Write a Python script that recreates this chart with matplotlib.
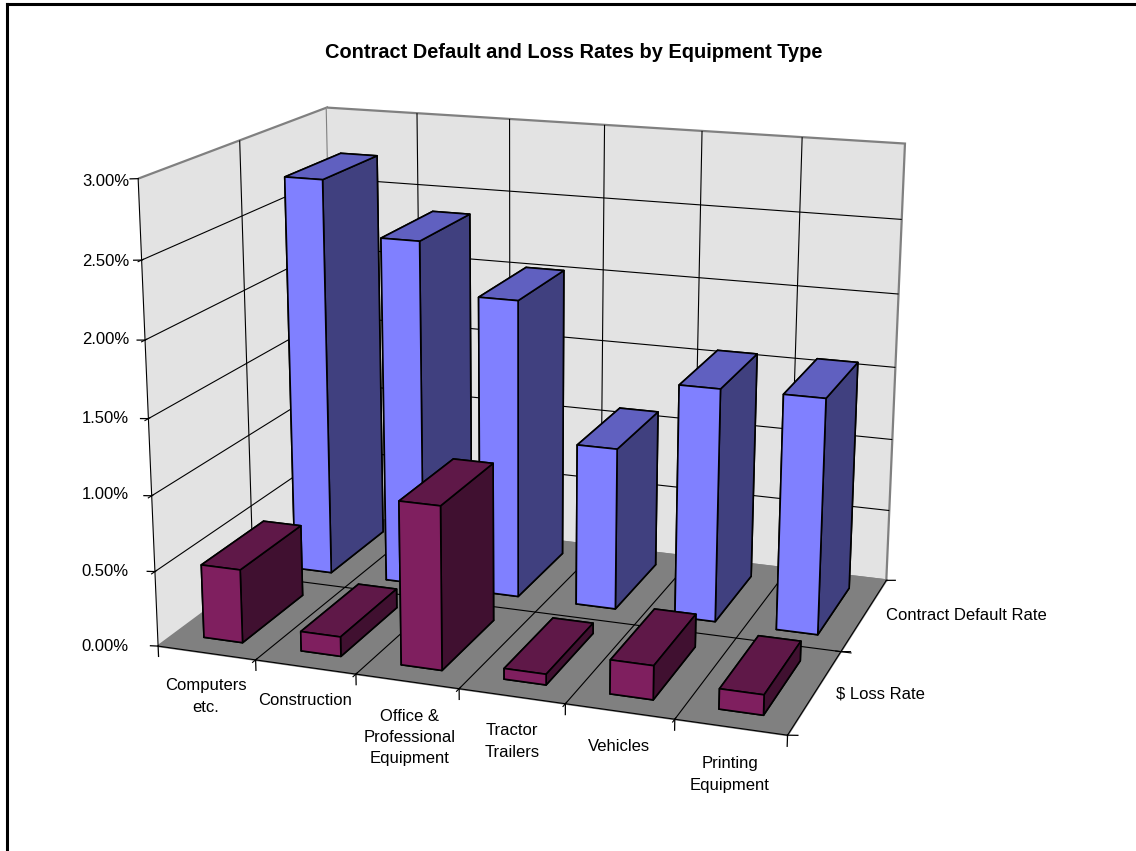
import numpy as np
import matplotlib
matplotlib.use('Agg')
import matplotlib.pyplot as plt
from matplotlib.lines import Line2D

plt.rcParams['font.family'] = ['Liberation Sans', 'DejaVu Sans']
plt.rcParams['grid.color'] = 'black'
plt.rcParams['grid.linewidth'] = 0.8

categories = ['Computers\netc.', 'Construction', 'Office &\nProfessional\nEquipment',
              'Tractor\nTrailers', 'Vehicles', 'Printing\nEquipment']
series_names = ['$ Loss Rate', 'Contract Default Rate']
loss_rate = [0.49, 0.13, 1.07, 0.07, 0.22, 0.13]
default_rate = [2.73, 2.37, 2.03, 1.10, 1.57, 1.575]
z_ticks = [0.0, 0.5, 1.0, 1.5, 2.0, 2.5, 3.0]

BAR_W = 0.4
BAR_D = 0.66
blue = ['#6060C0', '#6060C0', '#8080FF', '#8080FF', '#40407F', '#40407F']
purple = ['#5F1848', '#5F1848', '#7F1F5F', '#7F1F5F', '#401030', '#401030']

fig = plt.figure(figsize=(11.36, 8.51), dpi=100)
# camera settings were fitted against the corners of the reference box
ax = fig.add_axes([86.1/1136, 9.4/851, 875.4/1136, 875.4/851], projection='3d', computed_zorder=False)
ax.set_xlim(0, 6)
ax.set_ylim(0, 2)
ax.set_zlim(0, 3)
ax.view_init(15.9419, -70.4212, -0.0979)
ax.set_proj_type('persp', focal_length=0.5278)
ax.set_box_aspect((2.0655, 1.3899, 1.5176))
ax.patch.set_alpha(0)

ax.xaxis.set_pane_color('#E3E3E3')
ax.yaxis.set_pane_color('#E3E3E3')
ax.zaxis.set_pane_color('#808080')
for axis in (ax.xaxis, ax.yaxis, ax.zaxis):
    axis.pane.set_edgecolor('#808080')
    axis.pane.set_linewidth(1.6)
    axis._axinfo['axisline']['color'] = 'black'
    axis._axinfo['axisline']['linewidth'] = 1.0

# grid only inside the box, the outer edges stay grey
ax.set_xticks(range(1, 6))
ax.set_yticks([1])
ax.set_zticks(z_ticks[1:-1])
ax.set_xticklabels([])
ax.set_yticklabels([])
ax.set_zticklabels([])
ax.zaxis.set_ticks_position('lower')

# tick marks outside the box
for i in range(len(categories) + 1):
    ax.plot([i, i], [0, 0], [0, -0.07], color='black', lw=0.9, zorder=2)
for j in range(len(series_names) + 1):
    ax.plot([6, 6.09], [j, j], [0, 0.008], color='black', lw=0.9, zorder=2)
for v in z_ticks:
    ax.plot([0, -0.08], [0, 0], [v, v - 0.005], color='black', lw=0.9, zorder=2)

zo = 5
for vals, cols, y0 in [(default_rate, blue, 1.17), (loss_rate, purple, 0.17)]:
    for i, v in enumerate(vals):
        ax.bar3d(i + 0.3, y0, 0, BAR_W, BAR_D, v, color=cols, shade=False,
                 edgecolor='black', linewidth=1.2, zorder=zo)
        zo += 1

def put(px, py, txt, **kw):
    fig.text(px/1136, 1 - (py + 1.5)/851, txt, fontsize=12, va='center', **kw)

fig.text(574/1136, 1 - 53/851, 'Contract Default and Loss Rates by Equipment Type',
         fontsize=14.4, fontweight='bold', ha='center', va='center')
for v, py in zip(z_ticks, [645, 570, 493, 417, 338, 260, 180]):
    put(129, py, '%.2f%%' % v, ha='right')
cat_x = [206, 305, 410, 512, 619, 730]
cat_y = [695, 699, 736, 740, 745, 773]
for c, px, py in zip(categories, cat_x, cat_y):
    put(px, py, c, ha='center', multialignment='center', linespacing=1.52)
put(836, 692, series_names[0], ha='left')
put(886, 614, series_names[1], ha='left')

# picture frame, left and top only
fig.add_artist(Line2D([6.5/1136, 6.5/1136], [0, 1 - 3.5/851], color='black', lw=2.2))
fig.add_artist(Line2D([6.5/1136, 1], [1 - 3.5/851, 1 - 3.5/851], color='black', lw=2.2))

fig.savefig('out.png', dpi=100)
